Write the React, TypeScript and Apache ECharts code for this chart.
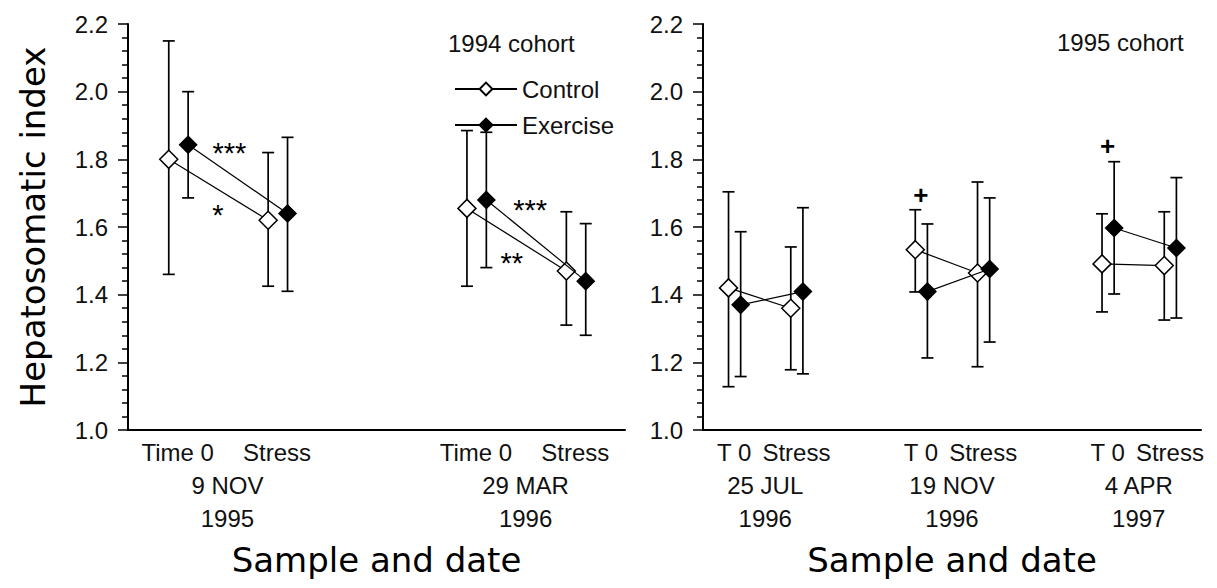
import React, { useEffect, useRef } from "react";
import * as echarts from "echarts";

// ---- Data: 1994 cohort (left panel) ----
const leftSampleLabels = ["Time 0", "Stress"];
const leftDateLabels = ["9 NOV\n1995", "29 MAR\n1996"];
const leftControlMean = [1.80, 1.62, 1.655, 1.47];
const leftControlLow = [1.46, 1.425, 1.425, 1.31];
const leftControlHigh = [2.15, 1.82, 1.885, 1.645];
const leftExerciseMean = [1.843, 1.64, 1.68, 1.44];
const leftExerciseLow = [1.686, 1.41, 1.48, 1.28];
const leftExerciseHigh = [2.0, 1.865, 1.88, 1.61];
const leftNoteX = [1.52, 1.405, 4.545, 4.36];
const leftNoteY = [1.818, 1.634, 1.65, 1.495];
const leftNoteText = ["***", "*", "***", "**"];

// ---- Data: 1995 cohort (right panel) ----
const rightSampleLabels = ["T 0", "Stress"];
const rightDateLabels = ["25 JUL\n1996", "19 NOV\n1996", "4 APR\n1997"];
const rightControlMean = [1.42, 1.36, 1.533, 1.464, 1.491, 1.486];
const rightControlLow = [1.128, 1.178, 1.408, 1.187, 1.349, 1.325];
const rightControlHigh = [1.704, 1.541, 1.651, 1.733, 1.639, 1.645];
const rightExerciseMean = [1.37, 1.409, 1.409, 1.476, 1.597, 1.538];
const rightExerciseLow = [1.158, 1.166, 1.213, 1.26, 1.402, 1.331];
const rightExerciseHigh = [1.586, 1.657, 1.609, 1.686, 1.793, 1.746];
const rightNoteX = [4.0, 7.0];
const rightNoteY = [1.695, 1.84];
const rightNoteText = ["+", "+"];

const SMALL_FONT = "'Liberation Sans', Arial, sans-serif";
const BIG_FONT = "'DejaVu Sans', sans-serif";
const INK = "#111";

function slotOf(i: number) {
  const g = Math.floor(i / 2);
  const r = i % 2;
  return g * 3 + r + 1;
}

function makeFormatter(samples: string[], dates: string[]) {
  return (v: number) => {
    const k = Math.round(v * 2) / 2;
    if (Math.abs(((k - 1.5) % 3 + 3) % 3) < 1e-6) {
      const g = Math.round((k - 1.5) / 3);
      return dates[g] ? "\n" + dates[g] : "";
    }
    if (Number.isInteger(k)) {
      const r = ((k - 1) % 3 + 3) % 3;
      if (r === 0 || r === 1) return samples[r];
    }
    return "";
  };
}

function errorBarRender(params: any, api: any) {
  const x = api.value(0);
  const lo = api.coord([x, api.value(1)]);
  const hi = api.coord([x, api.value(2)]);
  const w = 6;
  const style = { stroke: "#000", lineWidth: 1.7 };
  return {
    type: "group",
    children: [
      { type: "line", shape: { x1: lo[0], y1: lo[1], x2: hi[0], y2: hi[1] }, style },
      { type: "line", shape: { x1: hi[0] - w, y1: hi[1], x2: hi[0] + w, y2: hi[1] }, style },
      { type: "line", shape: { x1: lo[0] - w, y1: lo[1], x2: lo[0] + w, y2: lo[1] }, style },
    ],
  };
}

function panelSeries(
  axisIndex: number,
  cMean: number[], cLow: number[], cHigh: number[],
  eMean: number[], eLow: number[], eHigh: number[],
  noteX: number[], noteY: number[], noteText: string[]
) {
  const series: any[] = [];
  const offC = -0.09;
  const offE = 0.105;
  const groups = [
    { name: "Control", mean: cMean, low: cLow, high: cHigh, off: offC, fill: "#fff", size: 18 },
    { name: "Exercise", mean: eMean, low: eLow, high: eHigh, off: offE, fill: "#000", size: 17 },
  ];
  groups.forEach((gr) => {
    series.push({
      type: "custom",
      xAxisIndex: axisIndex,
      yAxisIndex: axisIndex,
      renderItem: errorBarRender,
      encode: { x: 0, y: [1, 2] },
      data: gr.mean.map((_, i) => [slotOf(i) + gr.off, gr.low[i], gr.high[i]]),
      z: 2,
      silent: true,
    });
  });
  groups.forEach((gr) => {
    const nGroups = gr.mean.length / 2;
    for (let g = 0; g < nGroups; g++) {
      series.push({
        type: "line",
        name: gr.name,
        xAxisIndex: axisIndex,
        yAxisIndex: axisIndex,
        symbol: "diamond",
        symbolSize: gr.size,
        showSymbol: true,
        lineStyle: { color: "#000", width: 1.2 },
        itemStyle: { color: gr.fill, borderColor: "#000", borderWidth: 1.5 },
        data: [0, 1].map((r) => [slotOf(g * 2 + r) + gr.off, gr.mean[g * 2 + r]]),
        z: gr.name === "Exercise" ? 4 : 3,
        silent: true,
      });
    }
  });
  series.push({
    type: "scatter",
    xAxisIndex: axisIndex,
    yAxisIndex: axisIndex,
    symbolSize: 1,
    itemStyle: { color: "rgba(0,0,0,0)", opacity: 1 },
    label: {
      show: true,
      position: "inside",
      formatter: (p: any) => p.value[2],
      color: "#000",
      opacity: 1,
      textBorderWidth: 0,
      fontFamily: SMALL_FONT,
      fontSize: 29,
    },
    data: noteX.map((x, i) => ({
      value: [x, noteY[i], noteText[i]],
      label: noteText[i] === "+" ? { fontWeight: "bold", fontSize: 26 } : { fontWeight: "normal" },
    })),
    z: 6,
    silent: true,
  });
  return series;
}

function xAxisFor(gridIndex: number, max: number, samples: string[], dates: string[]) {
  return {
    type: "value",
    gridIndex,
    min: 0.5,
    max,
    interval: 0.5,
    axisLine: { show: true, lineStyle: { color: "#000", width: 2 } },
    axisTick: { show: false },
    splitLine: { show: false },
    axisLabel: {
      formatter: makeFormatter(samples, dates),
      color: INK,
      fontFamily: SMALL_FONT,
      fontSize: 24,
      lineHeight: 33,
      margin: 6,
      hideOverlap: false,
    },
    name: "Sample and date",
    nameLocation: "middle",
    nameGap: 113,
    nameTextStyle: { color: "#000", fontFamily: BIG_FONT, fontSize: 34 },
  };
}

function yAxisFor(gridIndex: number, withName: boolean) {
  const ax: any = {
    type: "value",
    gridIndex,
    min: 1,
    max: 2.2,
    interval: 0.2,
    axisLine: { show: true, lineStyle: { color: "#000", width: 2 } },
    axisTick: { show: true, length: 10, inside: false, lineStyle: { color: "#000", width: 1.5 } },
    minorTick: { show: true, splitNumber: 5, length: 6, lineStyle: { color: "#000", width: 1.5 } },
    splitLine: { show: false },
    minorSplitLine: { show: false },
    axisLabel: {
      formatter: (v: number) => v.toFixed(1),
      color: INK,
      fontFamily: SMALL_FONT,
      fontSize: 24,
      margin: 20,
    },
  };
  if (withName) {
    ax.name = "Hepatosomatic index";
    ax.nameLocation = "middle";
    ax.nameGap = 78;
    ax.nameRotate = 90;
    ax.nameTextStyle = { color: "#000", fontFamily: BIG_FONT, fontSize: 34 };
  }
  return ax;
}

export default function App() {
  const ref = useRef<HTMLDivElement>(null);
  useEffect(() => {
    document.body.style.margin = "0";
    if (!ref.current) return;
    const chart = echarts.init(ref.current, undefined, { renderer: "svg" });
    const option: any = {
      animation: false,
      backgroundColor: "#fff",
      grid: [
        { left: 128, right: 592, top: 24, bottom: 158 },
        { left: 703, right: 16, top: 24, bottom: 158 },
      ],
      xAxis: [
        xAxisFor(0, 5.5, leftSampleLabels, leftDateLabels),
        xAxisFor(1, 8.5, rightSampleLabels, rightDateLabels),
      ],
      yAxis: [yAxisFor(0, true), yAxisFor(1, false)],
      legend: {
        data: ["Control", "Exercise"],
        orient: "vertical",
        left: 449,
        top: 72,
        itemWidth: 62,
        itemHeight: 16,
        itemGap: 12,
        selectedMode: false,
        textStyle: { color: INK, fontFamily: SMALL_FONT, fontSize: 24 },
      },
      graphic: [
        {
          type: "text",
          x: 448,
          y: 43,
          style: { text: "1994 cohort", fill: INK, font: `24px ${SMALL_FONT}`, verticalAlign: "middle" },
        },
        {
          type: "text",
          x: 1057,
          y: 42,
          style: { text: "1995 cohort", fill: INK, font: `24px ${SMALL_FONT}`, verticalAlign: "middle" },
        },
      ],
      series: [
        ...panelSeries(0, leftControlMean, leftControlLow, leftControlHigh,
          leftExerciseMean, leftExerciseLow, leftExerciseHigh, leftNoteX, leftNoteY, leftNoteText),
        ...panelSeries(1, rightControlMean, rightControlLow, rightControlHigh,
          rightExerciseMean, rightExerciseLow, rightExerciseHigh, rightNoteX, rightNoteY, rightNoteText),
      ],
    };
    chart.setOption(option);
    return () => chart.dispose();
  }, []);
  return <div ref={ref} style={{ width: 1217, height: 588 }} />;
}
